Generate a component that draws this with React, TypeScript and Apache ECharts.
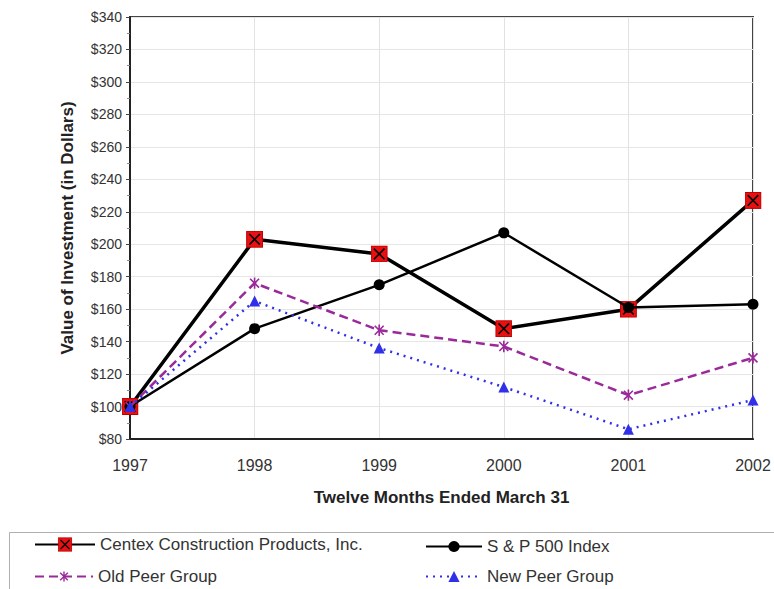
import React, { useEffect, useRef } from "react";
import * as echarts from "echarts";

const years = ["1997", "1998", "1999", "2000", "2001", "2002"];
const centex = [100, 203, 194, 148, 160, 227];
const sp500 = [100, 148, 175, 207, 161, 163];
const oldPeer = [100, 176, 147, 137, 107, 130];
const newPeer = [100, 165, 136, 112, 86, 104];

const seriesNames = [
  "Centex Construction Products, Inc.",
  "S & P 500 Index",
  "Old Peer Group",
  "New Peer Group",
];

const svgUri = (svg: string) => "image://data:image/svg+xml;base64," + btoa(svg);

const centexSymbol = svgUri(
  '<svg xmlns="http://www.w3.org/2000/svg" width="32" height="32" viewBox="0 0 32 32">' +
    '<rect x="1" y="1" width="30" height="30" fill="#e81010" stroke="#c00000" stroke-width="2"/>' +
    '<path d="M6 6 L26 26 M26 6 L6 26" stroke="#000" stroke-width="3"/></svg>'
);
const starSymbol = svgUri(
  '<svg xmlns="http://www.w3.org/2000/svg" width="32" height="32" viewBox="0 0 32 32">' +
    '<path d="M5 5 L27 27 M27 5 L5 27 M16 2 L16 30" stroke="#9a2a9a" stroke-width="4"/></svg>'
);

export default function App() {
  const ref = useRef<HTMLDivElement>(null);
  useEffect(() => {
    if (!ref.current) return;
    const chart = echarts.init(ref.current, undefined, { renderer: "svg" });
    const font = "Arial, 'Liberation Sans', sans-serif";
    const legendText = { color: "#333", fontSize: 17, fontFamily: font };
    const mkLegend = (name: string, left: number, top: number, w: number, h: number) => ({
      data: [name],
      left,
      top,
      padding: 0,
      itemWidth: w,
      itemHeight: h,
      itemGap: 0,
      textStyle: legendText,
      selectedMode: false,
    });
    chart.setOption({
      animation: false,
      backgroundColor: "#fff",
      textStyle: { fontFamily: font },
      grid: {
        left: 130,
        right: 21,
        top: 17,
        bottom: 150,
        show: true,
        borderColor: "#444",
        borderWidth: 2,
        backgroundColor: "transparent",
      },
      legend: [
        mkLegend(seriesNames[0], 34, 536, 60, 18),
        mkLegend(seriesNames[1], 425, 538, 56, 14),
        mkLegend(seriesNames[2], 34, 568, 58, 14),
        mkLegend(seriesNames[3], 425, 568, 56, 14),
      ],
      graphic: [
        {
          type: "rect",
          shape: { x: 9.5, y: 532.5, width: 800, height: 80 },
          style: { fill: "none", stroke: "#b0b0b0", lineWidth: 1 },
          silent: true,
        },
      ],
      xAxis: {
        type: "category",
        data: years,
        boundaryGap: false,
        name: "Twelve Months Ended March 31",
        nameLocation: "middle",
        nameGap: 50,
        nameTextStyle: { fontSize: 17, fontWeight: "bold", color: "#222", fontFamily: font },
        axisLine: { lineStyle: { color: "#222", width: 2 } },
        axisTick: { show: false },
        axisLabel: { fontSize: 16, color: "#333", margin: 18, fontFamily: font },
        splitLine: { show: true, lineStyle: { color: "#e2e2e2", width: 1 } },
      },
      yAxis: {
        type: "value",
        min: 80,
        max: 340,
        interval: 20,
        name: "Value of Investment (in Dollars)",
        nameLocation: "middle",
        nameGap: 54,
        nameTextStyle: { fontSize: 17, fontWeight: "bold", color: "#222", fontFamily: font },
        axisLine: { show: true, lineStyle: { color: "#222", width: 2 } },
        axisTick: { show: true, length: 4, lineStyle: { color: "#444" } },
        minorTick: { show: true, splitNumber: 2, length: 3, lineStyle: { color: "#888" } },
        axisLabel: {
          fontSize: 14,
          color: "#333",
          margin: 8,
          fontFamily: font,
          formatter: (v: number) => "$" + v,
        },
        splitLine: { show: true, lineStyle: { color: "#e6e6e6", width: 1 } },
      },
      series: [
        {
          name: seriesNames[0],
          type: "line",
          data: centex,
          symbol: centexSymbol,
          symbolSize: 17,
          color: "#000",
          lineStyle: { color: "#000", width: 3.5 },
          z: 2,
        },
        {
          name: seriesNames[1],
          type: "line",
          data: sp500,
          symbol: "circle",
          symbolSize: 11,
          color: "#000",
          itemStyle: { color: "#000", borderWidth: 0 },
          lineStyle: { color: "#000", width: 2.5 },
          z: 3,
        },
        {
          name: seriesNames[2],
          type: "line",
          data: oldPeer,
          symbol: starSymbol,
          symbolSize: 13,
          color: "#9a2a9a",
          lineStyle: { color: "#9a2a9a", width: 2.5, type: [9, 5] },
          z: 4,
        },
        {
          name: seriesNames[3],
          type: "line",
          data: newPeer,
          symbol: "triangle",
          symbolSize: 11,
          color: "#3030e8",
          itemStyle: { color: "#3030e8", borderWidth: 0 },
          lineStyle: { color: "#3030e8", width: 2.5, type: [2, 5] },
          z: 5,
        },
      ],
    });
    return () => chart.dispose();
  }, []);
  return (
    <div
      ref={ref}
      style={{ position: "absolute", left: 0, top: 0, width: 774, height: 589 }}
    />
  );
}
